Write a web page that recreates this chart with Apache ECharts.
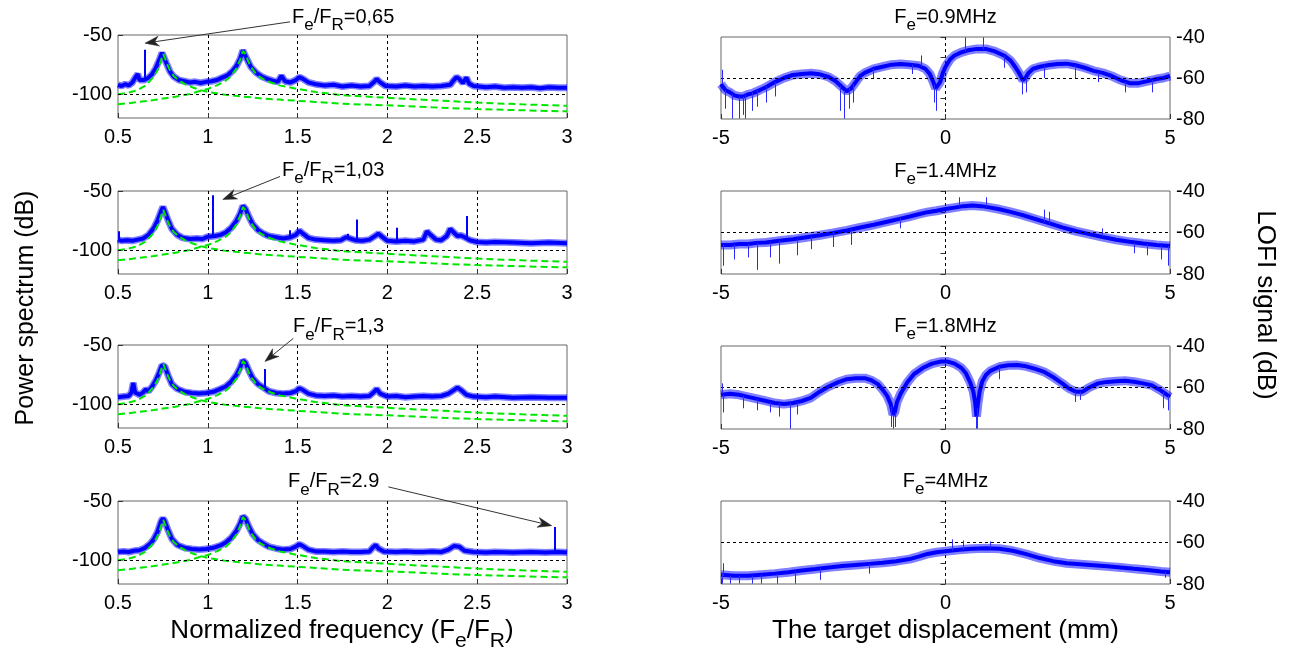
<!DOCTYPE html>
<html><head><meta charset="utf-8">
<script src="https://cdn.jsdelivr.net/npm/echarts@6/dist/echarts.min.js"></script>
<style>html,body{margin:0;padding:0;background:#fff}#c{width:1291px;height:656px}</style>
</head><body><div id="c"></div>
<script>
// ---------------- DATA ----------------
// Tick labels
const specYTicks = [-100, -50];
const lofiYTicks = [-80, -60, -40];

// Left column: power spectrum (normalized frequency, dB)
const blueSpec1 = [[0.50,-92],[0.52,-93],[0.54,-91.5],[0.56,-92.5],[0.58,-90],[0.60,-85],[0.61,-83],[0.62,-88],[0.63,-89],[0.645,-88],[0.655,-87],[0.67,-86],[0.69,-83],[0.71,-78],[0.73,-71],[0.745,-65],[0.75,-64],[0.755,-66],[0.77,-74],[0.79,-81],[0.81,-85],[0.84,-88],[0.87,-89],[0.90,-90],[0.93,-89.5],[0.96,-90.5],[0.99,-89.5],[1.02,-89],[1.05,-88],[1.08,-86],[1.11,-84],[1.14,-80],[1.16,-76],[1.18,-70],[1.195,-63],[1.20,-62],[1.205,-64],[1.22,-71],[1.24,-77],[1.27,-82],[1.30,-85],[1.33,-87],[1.36,-88.5],[1.39,-89.5],[1.41,-84.5],[1.43,-89],[1.46,-90],[1.49,-88],[1.51,-85.5],[1.53,-87],[1.56,-90],[1.60,-91.5],[1.65,-92.5],[1.70,-92],[1.75,-93.5],[1.80,-92.5],[1.85,-93.5],[1.90,-93],[1.93,-89],[1.94,-87],[1.96,-90],[1.99,-93],[2.05,-93.5],[2.10,-92.5],[2.15,-93.5],[2.20,-93],[2.25,-93.5],[2.30,-93],[2.35,-92],[2.37,-88],[2.385,-85.5],[2.40,-87],[2.42,-90.5],[2.44,-86],[2.455,-91],[2.48,-93],[2.55,-94],[2.60,-93.5],[2.65,-94.5],[2.70,-94],[2.75,-94.5],[2.80,-94],[2.85,-95],[2.90,-94],[2.95,-94.5],[3.00,-94.5]];
const blueSpec2 = [[0.50,-91],[0.52,-92],[0.55,-91.5],[0.58,-92],[0.61,-91],[0.64,-90],[0.67,-87],[0.70,-81],[0.72,-75],[0.74,-67],[0.75,-63.5],[0.76,-67],[0.78,-75],[0.80,-82],[0.83,-87],[0.86,-89.5],[0.90,-90.5],[0.94,-90],[0.97,-90.5],[1.00,-88.5],[1.04,-88],[1.07,-87],[1.10,-85],[1.13,-81],[1.16,-75],[1.18,-69],[1.195,-62.5],[1.20,-61.5],[1.21,-65],[1.23,-72],[1.25,-78],[1.28,-83],[1.31,-86],[1.34,-88],[1.38,-89],[1.42,-90],[1.46,-89],[1.49,-87],[1.51,-83.5],[1.53,-86],[1.56,-89.5],[1.60,-91],[1.65,-91.5],[1.70,-92],[1.74,-91.5],[1.77,-89],[1.79,-90],[1.82,-91.5],[1.86,-92],[1.90,-91],[1.93,-88],[1.95,-86],[1.97,-88.5],[2.00,-92],[2.05,-92.5],[2.10,-92],[2.15,-92.5],[2.20,-91],[2.22,-84],[2.24,-87],[2.27,-91],[2.30,-91.5],[2.33,-88],[2.35,-82],[2.37,-85],[2.39,-88],[2.41,-87.5],[2.43,-89],[2.46,-91.5],[2.50,-93],[2.55,-93.5],[2.60,-93],[2.70,-93.5],[2.80,-94],[2.90,-93.5],[3.00,-94]];
const blueSpec3 = [[0.50,-94],[0.53,-93.5],[0.56,-93],[0.575,-90],[0.585,-82],[0.595,-90],[0.62,-92],[0.64,-90],[0.655,-87.5],[0.67,-89],[0.69,-85],[0.71,-80],[0.73,-73],[0.745,-67],[0.75,-65.5],[0.76,-68],[0.78,-76],[0.80,-83],[0.83,-87],[0.87,-89.5],[0.91,-90.5],[0.95,-91],[0.99,-90.5],[1.03,-89.5],[1.07,-87],[1.10,-85],[1.13,-81],[1.16,-75],[1.18,-69],[1.195,-63],[1.20,-62],[1.21,-65],[1.23,-72],[1.25,-78],[1.28,-83],[1.31,-86],[1.34,-89],[1.38,-90.5],[1.42,-91],[1.46,-90.5],[1.49,-89],[1.51,-86.5],[1.53,-88],[1.56,-91],[1.60,-92.5],[1.65,-93],[1.70,-92.5],[1.75,-93.5],[1.80,-93],[1.85,-93.5],[1.90,-93],[1.93,-89],[1.94,-87],[1.96,-91],[2.00,-93.5],[2.05,-93],[2.10,-94],[2.15,-93.5],[2.20,-93],[2.25,-93.5],[2.30,-93],[2.34,-91],[2.37,-88],[2.39,-86],[2.41,-88],[2.44,-92],[2.48,-93.5],[2.55,-94],[2.60,-93.5],[2.70,-94.5],[2.80,-94],[2.90,-94.5],[3.00,-94.5]];
const blueSpec4 = [[0.50,-93],[0.53,-92.5],[0.56,-93],[0.59,-92],[0.62,-91.5],[0.65,-89.5],[0.68,-86],[0.70,-82],[0.72,-76],[0.74,-67],[0.75,-64.5],[0.76,-67],[0.78,-75],[0.80,-82],[0.83,-87],[0.87,-89.5],[0.91,-90.5],[0.95,-91],[0.99,-90.5],[1.03,-89.5],[1.07,-87.5],[1.10,-85],[1.13,-81],[1.16,-75],[1.18,-69],[1.195,-63],[1.20,-62.2],[1.21,-65],[1.23,-72],[1.25,-78],[1.28,-83],[1.31,-86],[1.34,-88.5],[1.38,-90],[1.42,-91],[1.46,-90.5],[1.49,-88.5],[1.51,-86.5],[1.53,-88],[1.56,-91],[1.60,-92.5],[1.65,-92.5],[1.70,-93],[1.75,-92.5],[1.80,-93],[1.85,-93],[1.90,-92.5],[1.92,-89],[1.935,-87.2],[1.95,-90],[1.98,-92.5],[2.05,-93],[2.10,-92.5],[2.15,-93],[2.20,-93],[2.25,-92.5],[2.30,-93],[2.34,-91],[2.37,-88],[2.38,-86.7],[2.40,-88.5],[2.43,-92],[2.48,-93],[2.55,-93.5],[2.60,-93],[2.70,-93.5],[2.80,-93],[2.88,-93.5],[2.95,-93],[3.00,-93.5]];
// narrow spectral lines: [x, base dB, peak dB]
const spikesSpec1 = [[0.65,-88,-62.5]];
const spikesSpec2 = [[0.505,-91,-84],[1.025,-89,-53.5],[1.458,-89,-83],[1.78,-90,-86],[1.827,-91.5,-74],[2.053,-92.5,-81],[2.44,-89,-71]];
const spikesSpec3 = [[1.316,-86,-70.3]];
const spikesSpec4 = [[2.934,-92,-72]];
// fitted resonance curves (green dashed)
const greenFitA = [[0.50,-100],[0.55,-98.8],[0.60,-97],[0.65,-93],[0.667,-90.5],[0.70,-85],[0.72,-79.5],[0.735,-73.5],[0.745,-68.5],[0.752,-66],[0.76,-69],[0.775,-75],[0.79,-80],[0.81,-84.5],[0.84,-88.5],[0.88,-92],[0.92,-94.5],[0.96,-96.5],[1.00,-98],[1.10,-100.5],[1.20,-102],[1.30,-103.5],[1.40,-104.5],[1.50,-105.5],[1.60,-106.5],[1.75,-108],[2.00,-109.3],[2.25,-111],[2.50,-112.5],[2.75,-113.5],[3.00,-114.4]];
const greenFitB = [[0.50,-108.5],[0.60,-106.8],[0.70,-104.8],[0.80,-102.6],[0.90,-99.8],[0.95,-97.5],[1.00,-95.5],[1.05,-92.5],[1.10,-88.5],[1.13,-84.5],[1.16,-78],[1.18,-71],[1.19,-66],[1.195,-63.5],[1.20,-62.5],[1.21,-66],[1.225,-72],[1.24,-77],[1.27,-83],[1.30,-86.5],[1.35,-90],[1.40,-92.5],[1.50,-95.5],[1.60,-98],[1.75,-100.8],[2.00,-103],[2.25,-105],[2.50,-107],[2.75,-108.5],[3.00,-109.7]];

// Right column: LOFI signal vs displacement (mm, dB)
const lofi1 = [[-5,-63],[-4.9,-66],[-4.8,-67],[-4.7,-68.5],[-4.6,-69],[-4.5,-69],[-4.4,-68],[-4.3,-67.5],[-4.2,-66.5],[-4.1,-65.5],[-4,-64.5],[-3.8,-62],[-3.6,-60],[-3.4,-58.5],[-3.2,-58],[-3,-57.7],[-2.8,-58.2],[-2.6,-59.5],[-2.45,-61.5],[-2.3,-64.5],[-2.2,-66.5],[-2.1,-65],[-2.0,-62],[-1.9,-59],[-1.8,-57.5],[-1.6,-55.5],[-1.4,-54.5],[-1.2,-53.5],[-1.0,-53.2],[-0.8,-53.5],[-0.6,-54],[-0.45,-55.5],[-0.35,-58],[-0.28,-61.5],[-0.22,-65],[-0.18,-65.5],[-0.12,-62],[-0.06,-57.5],[0,-54.5],[0.1,-51],[0.2,-49],[0.35,-47.5],[0.5,-46.5],[0.7,-45.8],[0.9,-45.8],[1.1,-47],[1.3,-49],[1.45,-51.5],[1.55,-54.5],[1.65,-58],[1.72,-61],[1.78,-60],[1.85,-57.5],[1.95,-55.5],[2.1,-54.5],[2.3,-53.7],[2.5,-53.2],[2.7,-53],[2.9,-53.8],[3.1,-55],[3.3,-56.5],[3.5,-57.5],[3.7,-59],[3.9,-61],[4.1,-62.5],[4.3,-62.5],[4.5,-61.5],[4.7,-60.5],[4.85,-60],[5,-59]];
const lofi2 = [[-5,-66],[-4.8,-66],[-4.6,-65.5],[-4.4,-65.5],[-4.2,-65],[-4,-64.8],[-3.7,-64],[-3.4,-63.3],[-3.1,-62.3],[-2.8,-61.3],[-2.5,-60.2],[-2.2,-59],[-1.9,-57.6],[-1.6,-56.3],[-1.3,-54.8],[-1.0,-53.3],[-0.8,-52.3],[-0.6,-51.2],[-0.4,-50.2],[-0.2,-49.5],[0,-48.7],[0.2,-48],[0.4,-47.3],[0.6,-47],[0.8,-47.3],[1.0,-48],[1.2,-48.8],[1.4,-49.8],[1.7,-51.5],[2.0,-53.5],[2.3,-55.5],[2.6,-57.5],[2.9,-59.3],[3.2,-60.8],[3.5,-62.2],[3.8,-63.5],[4.1,-64.5],[4.4,-65.3],[4.7,-66],[5,-66.5]];
const lofi3 = [[-5,-63.5],[-4.8,-63],[-4.6,-63.5],[-4.4,-64.5],[-4.2,-65.5],[-4.0,-66.5],[-3.8,-67.5],[-3.6,-68],[-3.4,-67.5],[-3.2,-66.5],[-3.0,-65],[-2.8,-62],[-2.6,-59.5],[-2.4,-57.5],[-2.2,-56],[-2,-55.5],[-1.8,-55.5],[-1.65,-56.5],[-1.5,-58.5],[-1.4,-61],[-1.3,-64],[-1.22,-68],[-1.17,-73],[-1.13,-72],[-1.08,-67],[-1.0,-63],[-0.85,-57.5],[-0.7,-53.5],[-0.5,-50.5],[-0.3,-48.5],[-0.1,-47.5],[0.05,-47.5],[0.2,-48.5],[0.35,-50.5],[0.45,-53],[0.55,-57.5],[0.62,-62],[0.66,-67],[0.69,-74],[0.72,-68],[0.76,-62],[0.82,-57],[0.9,-54],[1.0,-52],[1.2,-50],[1.4,-49.3],[1.6,-49.2],[1.8,-49.8],[2.0,-51],[2.2,-52.5],[2.4,-55],[2.6,-58],[2.75,-60.5],[2.9,-62],[3.05,-62],[3.2,-60],[3.4,-58],[3.6,-57.3],[3.8,-57],[4.0,-56.7],[4.2,-57.2],[4.4,-58],[4.6,-59],[4.8,-61.5],[5,-64.5]];
const lofi4 = [[-5,-75.5],[-4.7,-76],[-4.4,-76],[-4.1,-75.5],[-3.8,-75],[-3.5,-74.3],[-3.2,-73.5],[-2.9,-72.8],[-2.6,-72],[-2.3,-71.3],[-2,-70.8],[-1.7,-70.3],[-1.4,-69.8],[-1.1,-69],[-0.8,-68],[-0.6,-66.8],[-0.4,-65.5],[-0.2,-64.7],[0,-64.2],[0.3,-63.5],[0.6,-63],[0.9,-62.8],[1.2,-63],[1.5,-64],[1.8,-65.6],[2.1,-67.5],[2.4,-69],[2.7,-70],[3.0,-70.5],[3.3,-71],[3.6,-71.5],[3.9,-72],[4.2,-72.7],[4.5,-73.3],[4.8,-74],[5,-74.3]];
// noise excursions: [x, base dB, tip dB]
const lofiSpikes1 = [[-4.75,-68,-79.8],[-4.6,-69,-79.8],[-4.5,-69,-78],[-4.45,-68,-79.8],[-4.3,-67,-76],[-4.9,-66,-75],[-4.2,-66,-74],[-2.25,-66,-79.8],[-2.35,-64,-76],[-2.15,-65,-75],[-2.05,-63,-72],[-0.2,-65,-76],[-0.25,-63,-72],[1.72,-61,-68],[1.8,-60,-67],[0.45,-47,-40.2],[0.85,-46,-40.2],[-0.55,-54.5,-49],[2.9,-54,-60],[4.0,-62,-67],[4.6,-61,-67],[-4.98,-63,-56],[-3.8,-62,-69],[-4.0,-64,-72],[1.3,-49,-55],[2.2,-54,-60],[3.4,-57,-62],[-1.6,-55.5,-60],[-0.75,-53.5,-58]];
const lofiSpikes2 = [[-4.95,-66,-76],[-4.7,-66,-73],[-4.4,-65.5,-72],[-4.2,-65,-78],[-3.9,-64.5,-72],[-3.7,-64,-75],[-3.3,-63,-71],[-3.0,-62,-68],[-2.5,-60,-67],[-2.1,-58.5,-66],[-1.0,-53,-58],[0.9,-47.5,-43],[2.2,-55,-49],[2.3,-55.5,-50],[3.5,-62,-58],[4.2,-65,-70],[4.5,-65.5,-71],[4.8,-66,-73],[4.95,-66.5,-76],[0.3,-47.5,-43]];
const lofiSpikes3 = [[-4.98,-63,-58],[-4.95,-63.5,-72],[-4.5,-64,-70],[-4.2,-65.5,-71],[-3.7,-67.5,-74],[-3.45,-67.5,-79.8],[-3.3,-67,-73],[-1.17,-73,-79.8],[-1.2,-69,-79],[-1.12,-72,-79],[0.69,-74,-79.8],[0.7,-70,-79.8],[1.2,-50,-56],[2.9,-62,-67],[3.0,-62,-66],[4.85,-62,-70],[4.95,-64,-71],[-3.9,-67,-72]];
const lofiSpikes4 = [[-4.98,-75,-79.8],[-4.95,-76,-70],[-4.8,-76,-79.8],[-4.6,-76,-79.8],[-4.3,-76,-79.8],[-4.1,-75.5,-79.8],[-3.75,-75,-79.8],[-3.35,-74,-79.8],[-2.8,-72.5,-78],[-1.7,-70.3,-75],[0.15,-64,-58.5],[0.4,-63.5,-59],[1.0,-62.8,-59.5],[4.9,-74,-77]];

// Texts
const lofiTitles = [['F','e','=0.9MHz'],['F','e','=1.4MHz'],['F','e','=1.8MHz'],['F','e','=4MHz']];
const ratioLabels = ['0,65','1,03','1,3','2.9'];
// annotation anchors in data units of each left panel
const annotText = [[1.469,-35],[1.413,-32.75],[1.474,-34.75],[1.447,-33.9]];
const annotFrom = [[1.458,-38.9],[1.402,-37.75],[1.476,-44.4],[2.005,-38.1]];
const annotTo = [[0.65,-56.9],[1.083,-57.2],[1.318,-63.9],[2.915,-70.8]];

// ---------------- CHART ----------------
const FONT = '"Liberation Sans", Arial, Helvetica, sans-serif';
const BLUE = '#0000ff', GREEN = '#00e600';
const blueSpec = [blueSpec1, blueSpec2, blueSpec3, blueSpec4];
const spikesSpec = [spikesSpec1, spikesSpec2, spikesSpec3, spikesSpec4];
const lofi = [lofi1, lofi2, lofi3, lofi4];
const lofiSpikes = [lofiSpikes1, lofiSpikes2, lofiSpikes3, lofiSpikes4];

const LTOP = [35, 191, 345, 501];
const RTOP = [37, 191, 346, 501];
const RH = [82, 83, 83, 83];

const grids = [], xAxes = [], yAxes = [], series = [];
const dashed = {color: '#000', type: [3, 3], width: 1};
const tickStyle = {show: true, inside: true, length: 5, lineStyle: {color: '#333', width: 1}};
const lblStyle = {color: '#000', fontSize: 20, fontFamily: FONT};

for (let i = 0; i < 4; i++) {
  grids.push({left: 118, top: LTOP[i], width: 449, height: 83, show: true, borderColor: '#666', borderWidth: 1, backgroundColor: '#fff'});
  xAxes.push({type: 'value', gridIndex: i, min: 0.5, max: 3, interval: 0.5,
    axisLine: {show: false}, axisTick: tickStyle,
    axisLabel: Object.assign({margin: 9}, lblStyle),
    splitLine: {show: true, showMinLine: false, showMaxLine: false, lineStyle: dashed}});
  yAxes.push({type: 'value', gridIndex: i, min: -120, max: -50, interval: 10,
    axisLine: {show: false},
    axisTick: Object.assign({customValues: specYTicks}, tickStyle),
    axisLabel: Object.assign({margin: 6, customValues: specYTicks,
      formatter: v => specYTicks.indexOf(v) >= 0 ? String(v) : ''}, lblStyle),
    splitLine: {show: false}});
  // fuzzy noise band
  series.push({type: 'line', xAxisIndex: i, yAxisIndex: i, data: blueSpec[i], showSymbol: false,
    lineStyle: {color: BLUE, width: 7, opacity: 0.5}, z: 1, silent: true});
  series.push({type: 'line', xAxisIndex: i, yAxisIndex: i, data: blueSpec[i], showSymbol: false,
    lineStyle: {color: BLUE, width: 4}, itemStyle: {color: BLUE}, z: 2, silent: true,
    markLine: {silent: true, symbol: 'none', label: {show: false}, animation: false,
      lineStyle: {color: BLUE, width: 2, type: 'solid'},
      data: spikesSpec[i].map(s => [{coord: [s[0], s[1]]}, {coord: [s[0], s[2]]}])}});
  series.push({type: 'line', xAxisIndex: i, yAxisIndex: i, data: greenFitA, showSymbol: false,
    lineStyle: {color: GREEN, width: 2, type: [7, 4]}, z: 3, silent: true,
    markLine: {silent: true, symbol: 'none', label: {show: false}, animation: false,
      lineStyle: dashed, data: [{yAxis: -100}]}});
  series.push({type: 'line', xAxisIndex: i, yAxisIndex: i, data: greenFitB, showSymbol: false,
    lineStyle: {color: GREEN, width: 2, type: [7, 4]}, z: 3, silent: true});
}
for (let i = 0; i < 4; i++) {
  const g = 4 + i;
  grids.push({left: 721, top: RTOP[i], width: 449, height: RH[i], show: true, borderColor: '#666', borderWidth: 1, backgroundColor: '#fff'});
  xAxes.push({type: 'value', gridIndex: g, min: -5, max: 5, interval: 5,
    axisLine: {show: false}, axisTick: tickStyle,
    axisLabel: Object.assign({margin: 9}, lblStyle),
    splitLine: {show: true, showMinLine: false, showMaxLine: false, lineStyle: dashed}});
  yAxes.push({type: 'value', gridIndex: g, position: 'right', min: -80, max: -40, interval: 10,
    axisLine: {show: false}, axisTick: tickStyle,
    axisLabel: Object.assign({margin: 6,
      formatter: v => lofiYTicks.indexOf(v) >= 0 ? String(v) : ''}, lblStyle),
    splitLine: {show: false}});
  const ml = [{yAxis: -60, lineStyle: dashed}].concat(
    lofiSpikes[i].map(s => [{coord: [s[0], s[1]]}, {coord: [s[0], s[2]]}]));
  series.push({type: 'line', xAxisIndex: g, yAxisIndex: g, data: lofi[i], showSymbol: false,
    lineStyle: {color: BLUE, width: 9, opacity: 0.5}, z: 1, silent: true});
  series.push({type: 'line', xAxisIndex: g, yAxisIndex: g, data: lofi[i], showSymbol: false,
    lineStyle: {color: BLUE, width: 4}, itemStyle: {color: BLUE}, z: 2, silent: true,
    markLine: {silent: true, symbol: 'none', label: {show: false}, animation: false,
      lineStyle: {color: '#2a2aff', width: 1, type: 'solid'}, data: ml}});
}

const chart = echarts.init(document.getElementById('c'), null, {renderer: 'canvas'});
chart.setOption({animation: false, backgroundColor: '#fff', grid: grids, xAxis: xAxes, yAxis: yAxes, series: series});

// ---- text & annotations ----
const richSmall = {
  n: {fontSize: 20, fontFamily: FONT, color: '#000'},
  s: {fontSize: 17, fontFamily: FONT, color: '#000', padding: [16, 0, 0, 0]}
};
const richBig = {
  n: {fontSize: 26, fontFamily: FONT, color: '#000'},
  s: {fontSize: 21, fontFamily: FONT, color: '#000', padding: [20, 0, 0, 0]}
};
const gr = [];
for (let i = 0; i < 4; i++) {
  const t = lofiTitles[i];
  gr.push({type: 'text', x: 721 + 449 / 2, y: RTOP[i] - 20, z: 10,
    style: {text: '{n|' + t[0] + '}{s|' + t[1] + '}{n|' + t[2] + '}', rich: richSmall, align: 'center', verticalAlign: 'middle'}});
  const pt = chart.convertToPixel({gridIndex: i}, annotText[i]);
  gr.push({type: 'text', x: pt[0], y: pt[1], z: 10,
    style: {text: '{n|F}{s|e}{n|/F}{s|R}{n|=' + ratioLabels[i] + '}', rich: richSmall, align: 'left', verticalAlign: 'middle'}});
  const a = chart.convertToPixel({gridIndex: i}, annotFrom[i]);
  const b = chart.convertToPixel({gridIndex: i}, annotTo[i]);
  const dx = b[0] - a[0], dy = b[1] - a[1], len = Math.sqrt(dx * dx + dy * dy);
  const ux = dx / len, uy = dy / len, nx = -uy, ny = ux;
  const L = 14, W = 5;
  const bx = b[0] - ux * L, by = b[1] - uy * L;
  const kx = b[0] - ux * L * 0.7, ky = b[1] - uy * L * 0.7;
  gr.push({type: 'line', z: 10, shape: {x1: a[0], y1: a[1], x2: kx, y2: ky}, style: {stroke: '#333', lineWidth: 1}});
  gr.push({type: 'polygon', z: 10, shape: {points: [[b[0], b[1]], [bx + nx * W, by + ny * W], [kx, ky], [bx - nx * W, by - ny * W]]}, style: {fill: '#222', stroke: '#222', lineWidth: 0.5}});
}
gr.push({type: 'text', x: 26, y: 308, rotation: Math.PI / 2, z: 10,
  style: {text: 'Power spectrum (dB)', fontSize: 25, fontFamily: FONT, fill: '#000', align: 'center', verticalAlign: 'middle'}});
gr.push({type: 'text', x: 1265, y: 305, rotation: -Math.PI / 2, z: 10,
  style: {text: 'LOFI signal (dB)', fontSize: 26, fontFamily: FONT, fill: '#000', align: 'center', verticalAlign: 'middle'}});
gr.push({type: 'text', x: 342, y: 631, z: 10,
  style: {text: '{n|Normalized frequency (F}{s|e}{n|/F}{s|R}{n|)}', rich: richBig, align: 'center', verticalAlign: 'middle'}});
gr.push({type: 'text', x: 945.5, y: 631, z: 10,
  style: {text: 'The target displacement (mm)', fontSize: 26, fontFamily: FONT, fill: '#000', align: 'center', verticalAlign: 'middle'}});
chart.setOption({graphic: gr});
</script></body></html>
